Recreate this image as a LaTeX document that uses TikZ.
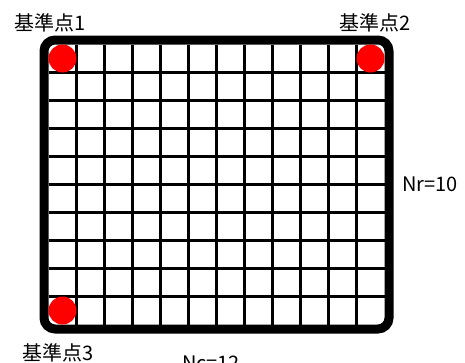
\documentclass[tikz,border=0pt]{standalone}
\usepackage{fontspec}
\setmainfont{Noto Sans CJK JP}
\usetikzlibrary{positioning}

\tikzstyle{refpoint} = [circle, fill=red, draw=none, minimum size=28pt, inner sep=0pt]
\tikzstyle{gridline} = [black, line width=3pt]
\tikzstyle{frame} = [draw=black, line width=9pt, rounded corners=11pt]
\tikzstyle{lbl} = [font=\fontsize{20pt}{22pt}\selectfont, inner sep=0pt]

\begin{document}
\begin{tikzpicture}[x=1pt, y=-1pt]
    \useasboundingbox (0,0) rectangle (465,362);
%------------ Raster (Nc x Nr) ---------------------
    \foreach \i in {1,...,11}
        \draw [gridline] (48.5+28*\i,44.5) -- (48.5+28*\i,324.5);
    \foreach \j in {1,...,9}
        \draw [gridline] (48.5,44.5+28*\j) -- (384.5,44.5+28*\j);
    \draw [frame] (44,40) rectangle (389,329);
%------------ Bezugspunkte ---------------------
    \node [refpoint] (p1) at (62.5,58.5) {};
    \node [refpoint] (p2) at (370.5,58.5) {};
    \node [refpoint] (p3) at (62.5,310.5) {};
    \node [lbl] (p1label) at (50,23) {基準点1};
    \node [lbl] (p2label) at (375,23) {基準点2};
    \node [lbl] (p3label) at (58,352.5) {基準点3};
%------------ Anzahl Zeilen / Spalten ---------------------
    \node [lbl, anchor=west] (nr) at (402,184) {Nr=10};
    \node [lbl] (nc) at (211,363) {Nc=12};
\end{tikzpicture}
\end{document}
